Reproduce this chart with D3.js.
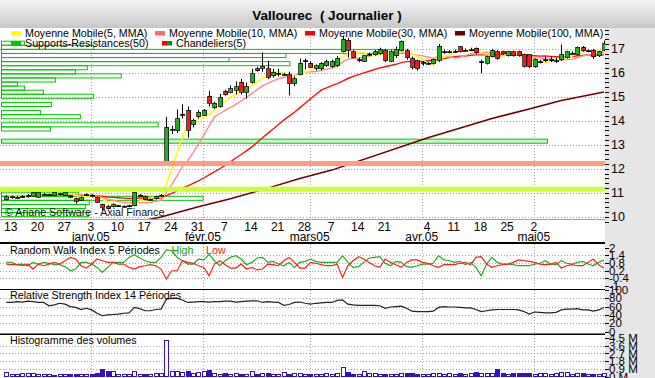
<!DOCTYPE html>
<html>
<head>
<meta charset="utf-8">
<script src="https://cdn.jsdelivr.net/npm/d3@7"></script>
<style>
  body { margin: 0; background: #e6e6e6; }
  svg { display: block; font-family: "Liberation Sans", Arial, sans-serif; }
</style>
</head>
<body>
<svg id="chart" width="655" height="378"></svg>
<script>
// trading days, Dec 13 2004 -> May 20 2005
const dates = [
  "2004-12-13","2004-12-14","2004-12-15","2004-12-16","2004-12-17",
  "2004-12-20","2004-12-21","2004-12-22","2004-12-23","2004-12-24",
  "2004-12-27","2004-12-28","2004-12-29","2004-12-30","2004-12-31",
  "2005-01-03","2005-01-04","2005-01-05","2005-01-06","2005-01-07",
  "2005-01-10","2005-01-11","2005-01-12","2005-01-13","2005-01-14",
  "2005-01-17","2005-01-18","2005-01-19","2005-01-20","2005-01-21",
  "2005-01-24","2005-01-25","2005-01-26","2005-01-27","2005-01-28",
  "2005-01-31","2005-02-01","2005-02-02","2005-02-03","2005-02-04",
  "2005-02-07","2005-02-08","2005-02-09","2005-02-10","2005-02-11",
  "2005-02-14","2005-02-15","2005-02-16","2005-02-17","2005-02-18",
  "2005-02-21","2005-02-22","2005-02-23","2005-02-24","2005-02-25",
  "2005-02-28","2005-03-01","2005-03-02","2005-03-03","2005-03-04",
  "2005-03-07","2005-03-08","2005-03-09","2005-03-10","2005-03-11",
  "2005-03-14","2005-03-15","2005-03-16","2005-03-17","2005-03-18",
  "2005-03-21","2005-03-22","2005-03-23","2005-03-24",
  "2005-03-29","2005-03-30","2005-03-31","2005-04-01",
  "2005-04-04","2005-04-05","2005-04-06","2005-04-07","2005-04-08",
  "2005-04-11","2005-04-12","2005-04-13","2005-04-14","2005-04-15",
  "2005-04-18","2005-04-19","2005-04-20","2005-04-21","2005-04-22",
  "2005-04-25","2005-04-26","2005-04-27","2005-04-28","2005-04-29",
  "2005-05-02","2005-05-03","2005-05-04","2005-05-05","2005-05-06",
  "2005-05-09","2005-05-10","2005-05-11","2005-05-12","2005-05-13",
  "2005-05-16","2005-05-17","2005-05-18","2005-05-19","2005-05-20"
];

const opens = [
  10.74,10.81,10.80,10.84,10.84, 10.86,10.82,10.93,10.92,10.90, 10.95,10.88,10.88,10.75,10.70,
  10.92,10.90,10.80,10.52,10.45, 10.42,10.46,10.44,10.44,10.46, 10.90,10.85,10.72,10.75,10.90,
  12.30,13.62,13.59,14.25,14.44, 13.86,14.17,14.24,15.02,14.55, 14.58,15.23,15.20,15.27,15.61,
  15.20,15.61,16.17,16.20,16.17, 15.89,15.96,15.93,15.93,15.57, 15.93,16.48,16.40,16.17,16.17,
  16.30,16.26,16.30,16.89,17.36, 16.89,16.54,16.48,16.75,16.76, 16.79,16.92,16.48,16.71,16.95,
  16.92,16.58,16.50,16.44,16.40, 16.40,16.53,16.86,16.87,16.89, 17.09,16.94,16.96,17.02,16.45,
  16.40,16.68,16.88,16.88,16.71, 16.88,16.88,16.75,16.75,16.26, 16.46,16.53,16.53,16.49,16.54,
  16.65,16.81,16.78,17.06,16.91, 16.95,16.71,16.95
];
const highs = [
  10.90,10.88,10.88,10.90,10.95, 11.05,11.04,11.00,10.97,11.05, 11.00,11.02,10.92,10.80,10.85,
  10.98,10.95,10.85,10.55,10.50, 10.56,10.50,10.48,10.50,11.05, 10.95,10.88,10.76,10.88,10.95,
  14.17,13.80,14.47,14.69,14.60, 14.10,14.45,14.50,15.25,14.80, 15.13,15.30,15.48,15.65,15.75,
  15.60,16.17,16.25,16.85,16.50, 16.17,16.17,16.00,16.05,15.85, 16.60,16.60,16.50,16.35,16.45,
  16.55,16.55,16.70,17.55,17.45, 16.95,16.64,16.75,16.85,16.95, 17.05,16.99,16.95,17.10,17.35,
  17.00,16.68,16.55,16.50,16.46, 16.60,17.20,16.98,16.95,16.97, 17.12,17.02,17.05,17.06,16.55,
  16.72,17.00,16.95,16.92,16.92, 16.92,16.92,16.80,16.78,16.60, 16.55,16.68,16.68,16.64,17.18,
  16.92,16.90,17.10,17.12,16.98, 17.00,16.92,17.35
];
const lows = [
  10.68,10.76,10.76,10.80,10.80, 10.84,10.80,10.88,10.88,10.88, 10.90,10.86,10.78,10.55,10.66,
  10.88,10.82,10.58,10.28,10.30, 10.40,10.42,10.40,10.40,10.44, 10.85,10.70,10.68,10.72,10.85,
  12.20,13.45,13.50,14.10,13.30, 13.73,14.10,14.20,14.60,14.50, 14.55,15.05,15.15,15.10,15.10,
  14.93,15.55,16.05,16.05,15.75, 15.80,15.85,15.88,15.06,15.45, 15.90,16.15,16.20,16.10,16.10,
  16.25,16.20,16.25,16.85,16.64, 16.60,16.45,16.45,16.70,16.72, 16.75,16.45,16.45,16.62,16.90,
  16.55,16.15,16.10,16.30,16.35, 16.35,16.45,16.80,16.82,16.84, 16.85,16.90,16.92,16.80,15.98,
  16.35,16.65,16.55,16.75,16.68, 16.68,16.68,16.22,16.20,16.22, 16.40,16.45,16.45,16.42,16.50,
  16.60,16.75,16.74,16.88,16.86, 16.58,16.66,16.90
];
const closes = [
  10.84,10.83,10.82,10.86,10.88, 11.02,11.02,10.95,10.93,11.02, 10.96,11.00,10.82,10.66,10.80,
  10.93,10.88,10.62,10.40,10.35, 10.50,10.47,10.45,10.46,11.02, 10.91,10.72,10.73,10.86,10.91,
  13.73,13.66,14.10,14.28,13.62, 14.03,14.37,14.44,14.74,14.74, 14.99,15.10,15.34,15.43,15.20,
  15.43,15.96,16.10,16.27,15.82, 16.03,15.98,15.95,15.57,15.75, 16.40,16.50,16.23,16.30,16.40,
  16.48,16.48,16.62,17.40,16.95, 16.64,16.55,16.71,16.77,16.89, 16.99,16.50,16.89,16.99,17.31,
  16.64,16.23,16.20,16.45,16.41, 16.55,17.11,16.88,16.88,16.90, 16.90,16.95,16.97,16.85,16.47,
  16.68,16.95,16.61,16.80,16.88, 16.71,16.71,16.28,16.26,16.57, 16.47,16.54,16.54,16.50,16.78,
  16.88,16.82,17.06,16.92,16.92, 16.68,16.88,17.23
];
// volumes, millions of shares
const volumes = [
  0.50,0.25,0.22,0.30,0.35, 0.30,0.25,0.20,0.25,0.15, 0.20,0.20,0.22,0.25,0.20,
  0.20,0.25,0.30,0.82,0.55, 0.55,0.25,0.25,0.20,0.55, 0.25,0.25,0.20,0.30,0.30,
  4.20,0.55,0.55,0.45,0.55, 0.30,0.50,0.60,0.75,0.30, 0.25,0.30,0.25,0.30,0.25,
  0.25,0.60,0.25,0.30,0.30, 0.20,0.20,0.50,0.20,0.35, 0.35,0.25,0.20,0.20,0.25,
  0.40,0.25,0.30,1.10,0.45, 0.25,0.25,0.55,0.30,0.35, 0.25,0.20,0.20,0.20,0.30,
  0.30,0.30,0.20,0.20,0.25, 0.30,0.40,0.25,0.30,0.25, 0.30,0.25,0.35,0.45,0.30,
  0.30,0.30,0.85,0.35,0.25, 0.30,0.30,0.30,0.30,0.25, 0.30,0.35,0.25,0.30,0.45,
  0.45,0.25,0.35,0.30,0.25, 0.25,0.25,0.35
];

// 100-day average (it needs history before the window)
const ma100Dates  = ["2005-01-04","2005-01-21","2005-02-01","2005-02-09","2005-02-18","2005-02-28",
                     "2005-03-08","2005-04-05","2005-04-21","2005-05-02","2005-05-10","2005-05-20"];
const ma100Values = [9.40, 10.00, 10.42, 10.76, 11.20, 11.60, 11.95, 13.30, 14.10, 14.50, 14.85, 15.20];

// Supports-Resistances(50): volume at price
const srPrices  = [17.235,17.065,16.895,16.725,16.555,16.385,16.215,16.045,15.875,15.705,15.535,15.365,15.195,
                   15.025,14.685,14.345,14.175,13.835,13.665,13.155,10.945,10.775,10.605,10.435,10.265,10.095];
const srVolumes = [230,920,4020,2850,2280,2890,860,740,1200,540,160,230,420,
                   920,500,390,790,1570,490,5470,770,2020,880,840,400,870];
const srBin = 0.17;
const srLevels = [12.23, 11.15];

// Random Walk Index 5
const rwiHigh = [
  0.84,0.84,0.66,0.71,0.58, 0.84,0.71,0.84,0.77,0.66, 0.66,0.51,0.19,0.32,0.84,
  0.84,0.71,0.45,0.06,0.45, 0.84,0.84,0.84,1.23,1.44, 1.18,0.97,0.84,0.84,1.23,
  1.81,1.77,1.23,0.97,0.71, 0.71,1.10,1.03,1.44,0.97, 0.58,0.97,1.23,1.36,1.10,
  0.66,0.84,1.18,1.23,0.84, 0.92,0.71,0.58,0.84,0.45, 0.84,0.92,1.10,0.92,0.84,
  0.84,0.84,0.84,1.36,0.84, 0.45,0.51,0.84,1.18,1.23, 1.28,0.77,0.58,0.92,0.84,
  0.51,0.45,0.58,0.71,0.71, 0.77,1.36,1.03,0.97,0.84, 0.92,0.66,0.84,0.45,-0.20,
  0.71,1.23,0.84,0.71,0.71, 0.66,0.58,0.58,0.58,0.71, 0.77,0.97,0.71,0.66,0.97,
  0.77,0.71,0.84,0.92,0.71, 0.58,0.84,1.03
];
const rwiLow = [
  0.71,0.66,0.66,0.58,0.71, 0.32,0.71,0.58,0.71,0.84, 0.71,0.97,1.23,1.10,0.58,
  0.40,0.71,1.10,0.97,0.84, 0.84,0.71,0.71,0.45,0.32, 0.51,0.58,0.66,0.58,0.32,
  -0.46,0.19,0.19,0.97,0.84, 0.77,0.58,0.45,-0.20,0.71, 0.97,0.66,0.40,0.40,0.71,
  0.32,0.45,0.25,0.32,0.71, 0.66,0.58,0.97,1.23,0.84, 0.40,0.40,0.84,0.77,0.66,
  0.58,0.58,0.71,-0.33,0.58, 0.97,1.28,1.10,0.84,0.58, 0.45,1.10,0.84,0.66,0.45,
  0.84,1.03,1.03,0.84,0.77, 0.58,0.45,0.66,0.66,0.66, 0.77,0.84,0.66,1.23,1.28,
  0.71,0.45,0.58,0.66,0.71, 0.84,1.03,0.97,0.92,0.84, 0.71,0.66,0.71,0.84,0.40,
  0.58,0.66,0.58,0.58,0.84, 1.10,0.66,0.40
];
// Relative Strength Index 14
const rsi = [
  70,70,72,71,73, 72,70,70,62,64, 68,66,60,58,53,
  56,52,44,38,40, 41,42,44,45,58, 55,50,50,53,54,
  78,80,80,76,70, 71,72,72,71,72, 72,73,73,71,72,
  73,74,74,70,72, 71,70,63,65,70, 71,68,66,68,69,
  70,70,75,76,66, 64,63,63,63,63, 62,56,59,60,61,
  56,49,48,48,48, 49,58,60,59,59, 58,57,57,53,48,
  50,52,53,53,53, 53,52,48,42,47, 46,45,45,46,52,
  54,54,55,52,52, 49,52,58
];

const priceTicks = [10, 11, 12, 13, 14, 15, 16, 17];
const rwiTicks = [2, 1.4, 0.8, 0.2, -0.4, -1];
const rsiTicks = [100, 80, 60, 40, 20, 0];
const volTicks = [4.5, 3.6, 2.7, 1.8, 0.9, 0];
const dayTicks = ["2004-12-13","2004-12-20","2004-12-27","2005-01-03","2005-01-10","2005-01-17",
                  "2005-01-24","2005-01-31","2005-02-07","2005-02-14","2005-02-21","2005-02-28",
                  "2005-03-07","2005-03-14","2005-03-21","2005-04-04","2005-04-11","2005-04-18",
                  "2005-04-25","2005-05-02"];
const monthTicks = ["2005-01-03","2005-02-01","2005-03-01","2005-04-01","2005-05-02"];
const monthNames = ["janv.05","févr.05","mars05","avr.05","mai05"];

// ---------------------------------------------------------------
const W = 655, H = 378, plotR = 605;
const svg = d3.select("#chart");

const grad = svg.append("defs").append("linearGradient")
  .attr("id", "titleGrad").attr("x1", 0).attr("y1", 0).attr("x2", 0).attr("y2", 1);
grad.append("stop").attr("offset", "0%").attr("stop-color", "#f6f6f6");
grad.append("stop").attr("offset", "100%").attr("stop-color", "#c6c6c6");
svg.select("defs").append("clipPath").attr("id", "mainClip")
  .append("rect").attr("x", 0).attr("y", 28).attr("width", plotR).attr("height", 191);

svg.append("rect").attr("width", W).attr("height", H).attr("fill", "#e6e6e6");
svg.append("rect").attr("width", W).attr("height", 28).attr("fill", "url(#titleGrad)");
svg.append("rect").attr("x", 0).attr("y", 28).attr("width", plotR).attr("height", H - 28).attr("fill", "#fff");

svg.append("text").attr("x", 327).attr("y", 19.5).attr("text-anchor", "middle")
  .attr("font-size", 13.5).attr("font-weight", "bold").style("white-space", "pre")
  .text("Vallourec  ( Journalier )");

const x = d3.scalePoint().domain(dates).range([6.3, 604]);
const tickX = d => x(d) + 4.5;
const y = d3.scaleLinear().domain([10, 17]).range([216.9, 48.9]);
const yR = d3.scaleLinear().domain([-1, 2]).range([286, 247.5]);
const yS = d3.scaleLinear().domain([0, 100]).range([331.5, 290]);
const yV = d3.scaleLinear().domain([0, 4.5]).range([376.5, 338]);
const srX = d3.scaleLinear().domain([0, d3.max(srVolumes)]).range([0, 546]);

const dotted = (g) => g.attr("stroke", "#a8a8a8").attr("stroke-width", 1).attr("stroke-dasharray", "1,2");

// grids
const grid = svg.append("g");
grid.selectAll(".hp").data(priceTicks).join("line")
  .attr("x1", 0).attr("x2", plotR).attr("y1", d => Math.round(y(d)) + 0.5).attr("y2", d => Math.round(y(d)) + 0.5)
  .call(dotted);
[[yR, rwiTicks], [yS, rsiTicks], [yV, volTicks]].forEach(([sc, t]) => {
  grid.append("g").selectAll("line").data(t.slice(1, -1)).join("line")
    .attr("x1", 0).attr("x2", plotR).attr("y1", d => Math.round(sc(d)) + 0.5).attr("y2", d => Math.round(sc(d)) + 0.5)
    .call(dotted);
});
[[28, 219], [244, 289], [290, 334], [335, 378]].forEach(([a, b]) => {
  grid.append("g").selectAll("line").data(monthTicks).join("line")
    .attr("x1", d => Math.round(tickX(d)) + 0.5).attr("x2", d => Math.round(tickX(d)) + 0.5)
    .attr("y1", a).attr("y2", b).call(dotted);
});

// main panel
const main = svg.append("g").attr("clip-path", "url(#mainClip)");

main.append("g").selectAll("rect").data(srPrices).join("rect")
  .attr("x", 1.5)
  .attr("y", d => y(d + srBin / 2))
  .attr("height", d => y(d - srBin / 2) - y(d + srBin / 2))
  .attr("width", (d, i) => srX(srVolumes[i]))
  .attr("fill", (d, i) => srVolumes[i] === d3.max(srVolumes) ? "#ccf5cc" : "none")
  .attr("stroke", "#00c800").attr("stroke-width", 1);

function movingAvg(values, n) {
  return values.map((v, i) => d3.mean(values.slice(Math.max(0, i - n + 1), i + 1)));
}
const line = d3.line().x((d, i) => x(dates[i])).y(d => y(d));
main.append("path").datum(ma100Values)
  .attr("d", d3.line().x((d, i) => x(ma100Dates[i])).y(d => y(d)))
  .attr("fill", "none").attr("stroke", "#6a0000").attr("stroke-width", 1.5);
main.append("path").datum(movingAvg(closes, 30)).attr("d", line)
  .attr("fill", "none").attr("stroke", "#ff1010").attr("stroke-width", 1.4);
main.append("path").datum(movingAvg(closes, 10)).attr("d", line)
  .attr("fill", "none").attr("stroke", "#ff8c8c").attr("stroke-width", 1.4);
main.append("path").datum(movingAvg(closes, 5)).attr("d", line)
  .attr("fill", "none").attr("stroke", "#ffff00").attr("stroke-width", 1.5);

const candles = main.append("g").selectAll("g").data(dates).join("g");
candles.append("line")
  .attr("x1", d => Math.round(x(d)) + 0.5).attr("x2", d => Math.round(x(d)) + 0.5)
  .attr("y1", (d, i) => y(highs[i])).attr("y2", (d, i) => y(lows[i]))
  .attr("stroke", "#000").attr("stroke-width", 1);
candles.append("rect")
  .attr("x", d => Math.round(x(d)) - 1.5)
  .attr("width", 4)
  .attr("y", (d, i) => y(Math.max(opens[i], closes[i])))
  .attr("height", (d, i) => Math.max(1, Math.abs(y(opens[i]) - y(closes[i]))))
  .attr("fill", (d, i) => Math.abs(y(opens[i]) - y(closes[i])) < 1.5 ? "#000" : (closes[i] >= opens[i] ? "#1fb01f" : "#e82020"))
  .attr("stroke", "#000").attr("stroke-width", 0.7)
  .attr("shape-rendering", "crispEdges");

main.append("g").selectAll("line").data(srLevels).join("line")
  .attr("x1", 0).attr("x2", plotR).attr("y1", d => y(d)).attr("y2", d => y(d))
  .attr("stroke", (d, i) => ["#ff9c84", "#ccff33"][i]).attr("stroke-width", 5);

// legend
const legend = [
  { label: "Moyenne Mobile(5, MMA)", colors: ["#ffff00"], x: 11, row: 0 },
  { label: "Moyenne Mobile(10, MMA)", colors: ["#ff6a6a"], x: 155, row: 0 },
  { label: "Moyenne Mobile(30, MMA)", colors: ["#ff0000"], x: 305, row: 0 },
  { label: "Moyenne Mobile(100, MMA)", colors: ["#660000"], x: 455, row: 0 },
  { label: "Supports-Resistances(50)", colors: ["#00c800"], x: 11, row: 1 },
  { label: "Chandeliers(5)", colors: ["#ff0000", "#009900"], x: 162, row: 1 }
];
const lg = svg.append("g").selectAll("g").data(legend).join("g")
  .attr("transform", d => `translate(${d.x},${31 + d.row * 10})`);
lg.each(function (d) {
  const g = d3.select(this);
  d.colors.forEach((c, k) => g.append("rect").attr("x", k * 10 / d.colors.length).attr("y", 0)
    .attr("width", 10 / d.colors.length).attr("height", 4.5).attr("fill", c));
});
lg.append("text").attr("x", 14).attr("y", 6).attr("font-size", 10.7).text(d => d.label);

svg.append("text").attr("x", 5).attr("y", 216).attr("font-size", 10.7).attr("fill", "#111")
  .text("© Ariane Software - Axial Finance");

// x axis
svg.append("line").attr("x1", 0).attr("x2", plotR).attr("y1", 219.5).attr("y2", 219.5).attr("stroke", "#a0a0a0");
svg.append("g").selectAll("text").data(dayTicks).join("text")
  .attr("x", d => tickX(d)).attr("y", 230.5).attr("text-anchor", "middle").attr("font-size", 12)
  .text(d => +d.slice(8));
svg.append("g").selectAll("text").data(monthTicks).join("text")
  .attr("x", d => tickX(d)).attr("y", 240.5).attr("text-anchor", "middle").attr("font-size", 12)
  .text((d, i) => monthNames[i]);

// lower panels
const lower = svg.append("g");
lower.append("path").datum(rwiHigh).attr("d", d3.line().x((d, i) => x(dates[i])).y(d => yR(d)))
  .attr("fill", "none").attr("stroke", "#22aa22").attr("stroke-width", 1.2);
lower.append("path").datum(rwiLow).attr("d", d3.line().x((d, i) => x(dates[i])).y(d => yR(d)))
  .attr("fill", "none").attr("stroke", "#ff2020").attr("stroke-width", 1.2);
lower.append("path").datum(rsi).attr("d", d3.line().x((d, i) => x(dates[i])).y(d => yS(d)))
  .attr("fill", "none").attr("stroke", "#222").attr("stroke-width", 1.2);
lower.append("g").selectAll("rect").data(dates).join("rect")
  .attr("x", d => Math.round(x(d)) - 1.5).attr("width", 4)
  .attr("y", (d, i) => yV(volumes[i])).attr("height", (d, i) => yV(0) - yV(volumes[i]))
  .attr("fill", (d, i) => closes[i] >= opens[i] ? "#fff" : "#3311cc")
  .attr("stroke", "#3311cc").attr("stroke-width", 1).attr("shape-rendering", "crispEdges");

const titles = [
  { t: "Random Walk Index 5 Périodes", y: 254 },
  { t: "Relative Strength Index 14 Périodes", y: 299 },
  { t: "Histogramme des volumes", y: 344 }
];
lower.append("g").selectAll("text").data(titles).join("text")
  .attr("x", 10).attr("y", d => d.y).attr("font-size", 10.7).text(d => d.t);
lower.append("text").attr("x", 171.5).attr("y", 254).attr("font-size", 10.7).attr("fill", "#11a011").text("High");
lower.append("text").attr("x", 206).attr("y", 254).attr("font-size", 10.7).attr("fill", "#ff1010").text("Low");

// panel separators
[[243, 2], [289.5, 1.2], [334.2, 1.6]].forEach(([yy, w]) =>
  svg.append("line").attr("x1", 0).attr("x2", plotR).attr("y1", yy).attr("y2", yy)
    .attr("stroke", "#000").attr("stroke-width", w));

// right axes
const axis = svg.append("g");
axis.selectAll(".mt").data(d3.range(9.8, 17.81, 0.2)).join("line")
  .attr("x1", plotR).attr("x2", plotR + 4).attr("y1", d => Math.round(y(d)) + 0.5).attr("y2", d => Math.round(y(d)) + 0.5)
  .attr("stroke", "#000");
axis.selectAll(".pl").data(priceTicks).join("text")
  .attr("x", 611).attr("y", d => y(d)).attr("dy", "0.36em").attr("font-size", 12.5).text(d => d);
[[yR, rwiTicks, d => d], [yS, rsiTicks, d => d], [yV, volTicks, d => d + " M"]].forEach(([sc, t, f]) => {
  axis.append("g").selectAll("line").data(t).join("line")
    .attr("x1", plotR).attr("x2", plotR + 4).attr("y1", d => Math.round(sc(d)) + 0.5).attr("y2", d => Math.round(sc(d)) + 0.5)
    .attr("stroke", "#000");
  axis.append("g").selectAll("text").data(t).join("text")
    .attr("x", 609).attr("y", d => sc(d)).attr("dy", "0.36em").attr("font-size", 11.5).text(f);
});
</script>
</body>
</html>
